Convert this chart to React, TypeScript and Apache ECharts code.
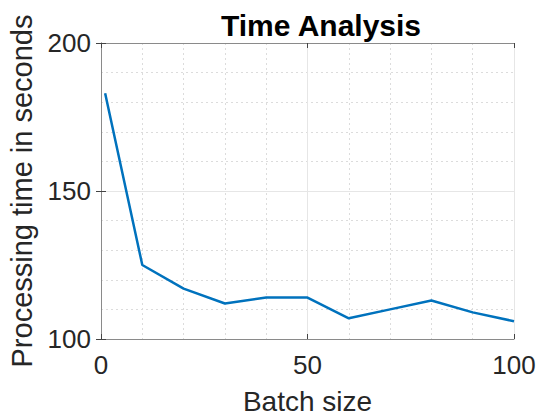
import React, { useEffect, useRef } from "react";
import * as echarts from "echarts";

const batchSizes = [1, 10, 20, 30, 40, 50, 60, 70, 80, 90, 100];
const processingTimes = [183, 125, 117, 112, 114, 114, 107, 110, 113, 109, 106];
const titleText = "Time Analysis";
const xLabel = "Batch size";
const yLabel = "Processing time in seconds";

const FONT = "'Liberation Sans', Arial, Helvetica, sans-serif";
const TEXT = "#262626";
const AXIS = "#8a8a8a";

export default function App() {
  const ref = useRef<HTMLDivElement>(null);
  useEffect(() => {
    if (!ref.current) return;
    const chart = echarts.init(ref.current, null, { renderer: "svg" });
    const minorSplit = { show: true, lineStyle: { color: "#dcdcdc", type: [2, 3], width: 1 } };
    const split = { show: true, lineStyle: { color: "#e6e6e6", type: "solid", width: 1 } };
    chart.setOption({
      animation: false,
      backgroundColor: "#ffffff",
      title: {
        text: titleText,
        left: 316,
        textAlign: "center",
        top: 5,
        textStyle: { fontFamily: FONT, fontSize: 30, fontWeight: "bold", color: "#000" },
      },
      grid: {
        left: 101,
        right: 25,
        top: 43,
        bottom: 76,
        show: false,
        containLabel: false,
        outerBoundsMode: "none",
      },
      xAxis: [
        {
          type: "value",
          min: 0,
          max: 100,
          interval: 50,
          position: "bottom",
          name: xLabel,
          nameLocation: "middle",
          nameGap: 48,
          nameTextStyle: { fontFamily: FONT, fontSize: 28, color: TEXT },
          axisLine: { show: true, lineStyle: { color: AXIS, width: 1 } },
          axisTick: { show: true, inside: true, length: 5, lineStyle: { color: "#444" } },
          axisLabel: { fontFamily: FONT, fontSize: 26, color: TEXT, margin: 13 },
          splitLine: split,
          minorTick: { show: false, splitNumber: 5 },
          minorSplitLine: minorSplit,
        },
        {
          type: "value",
          min: 0,
          max: 100,
          interval: 50,
          position: "top",
          axisLine: { show: true, lineStyle: { color: AXIS, width: 1 } },
          axisTick: { show: true, inside: true, length: 5, lineStyle: { color: "#444" } },
          axisLabel: { show: false },
          splitLine: { show: false },
        },
      ],
      yAxis: [
        {
          type: "value",
          min: 100,
          max: 200,
          interval: 50,
          position: "left",
          name: yLabel,
          nameLocation: "middle",
          nameGap: 60,
          nameTextStyle: { fontFamily: FONT, fontSize: 29, color: TEXT },
          axisLine: { show: true, lineStyle: { color: AXIS, width: 1 } },
          axisTick: { show: true, inside: true, length: 5, lineStyle: { color: "#444" } },
          axisLabel: { fontFamily: FONT, fontSize: 26, color: TEXT, margin: 10 },
          splitLine: split,
          minorTick: { show: false, splitNumber: 5 },
          minorSplitLine: minorSplit,
        },
        {
          type: "value",
          min: 100,
          max: 200,
          interval: 50,
          position: "right",
          axisLine: { show: true, lineStyle: { color: AXIS, width: 1 } },
          axisTick: { show: true, inside: true, length: 5, lineStyle: { color: "#444" } },
          axisLabel: { show: false },
          splitLine: { show: false },
        },
      ],
      series: [
        {
          type: "line",
          data: batchSizes.map((b, i) => [b, processingTimes[i]]),
          xAxisIndex: 0,
          yAxisIndex: 0,
          showSymbol: false,
          symbol: "none",
          lineStyle: { color: "#0072BD", width: 2.5 },
        },
      ],
    });
    return () => chart.dispose();
  }, []);
  return (
    <div
      ref={ref}
      style={{ position: "absolute", left: 0, top: 0, width: 539, height: 415 }}
    />
  );
}
